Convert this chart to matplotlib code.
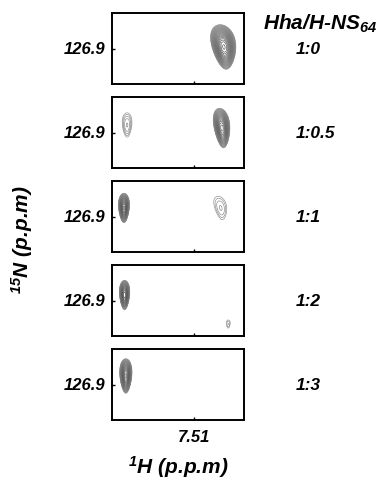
import numpy as np
import matplotlib
matplotlib.use("Agg")
import matplotlib.pyplot as plt

plt.rcParams["font.family"] = ["Liberation Sans", "DejaVu Sans"]
plt.rcParams["mathtext.default"] = "regular"

# titration ratios, one panel each
RATIOS = ["1:0", "1:0.5", "1:1", "1:2", "1:3"]

# peak table: panel index, 1H ppm, 15N ppm, outer half-width (ppm), outer half-height (ppm), amplitude
PEAK_PANEL = [0, 1, 1, 2, 2, 3, 3, 4]
PEAK_H = [7.462, 7.616, 7.465, 7.621, 7.467, 7.620, 7.455, 7.618]
PEAK_N = [126.885, 126.826, 126.856, 126.816, 126.816, 126.846, 127.132, 126.816]
PEAK_WH = [0.019, 0.0075, 0.0125, 0.0085, 0.0095, 0.008, 0.003, 0.0095]
PEAK_WN = [0.22, 0.12, 0.195, 0.145, 0.115, 0.145, 0.04, 0.17]
PEAK_AMP = [1.0, 0.085, 0.8, 0.9, 0.075, 0.95, 0.065, 0.9]
PEAK_TILT = [0.25, 0.0, 0.25, 0.0, 0.35, 0.0, 0.0, 0.0]

XLIM = (7.64, 7.43)
YLIM = (127.25, 126.55)
XTICK = 7.51
YTICK = 126.9
LEVELS = np.geomspace(0.05, 0.97, 24)

W, H = 380, 482
fig = plt.figure(figsize=(W / 100, H / 100), dpi=100)

FONT = dict(fontweight="bold", fontstyle="italic")

xg = np.linspace(XLIM[1], XLIM[0], 500)
yg = np.linspace(YLIM[1], YLIM[0], 500)
X, Y = np.meshgrid(xg, yg)
L0 = LEVELS[0]
# outer contours lighter, inner ones a bit darker
LEVEL_COLORS = [str(g) for g in np.linspace(0.55, 0.3, len(LEVELS))]

for i, ratio in enumerate(RATIOS):
    top = 13 + 84 * i
    ax = fig.add_axes([112 / W, 1 - (top + 71) / H, 132 / W, 71 / H])
    Z = np.zeros_like(X)
    for p, hx, ny, wh, wn, amp, tilt in zip(PEAK_PANEL, PEAK_H, PEAK_N, PEAK_WH,
                                            PEAK_WN, PEAK_AMP, PEAK_TILT):
        if p != i:
            continue
        k = np.sqrt(2 * np.log(amp / L0))
        sx, sy = wh / k, wn / k
        dx = (X - hx) / sx
        dy = (Y - ny) / sy
        # slight skew: a little wider toward the top of the peak
        dx = dx / (1 + 0.25 * np.clip(-dy / k, -1, 1)) + tilt * dy
        Z += amp * np.exp(-0.5 * (dx ** 2 + dy ** 2))
    ax.contour(X, Y, Z, levels=LEVELS, colors=LEVEL_COLORS, linewidths=0.45)
    ax.set_xlim(*XLIM)
    ax.set_ylim(*YLIM)
    ax.set_xticks([XTICK])
    ax.set_yticks([YTICK])
    ax.tick_params(direction="in", length=2, width=1)
    ax.tick_params(axis="y", pad=5)
    ax.tick_params(axis="x", pad=7)
    ax.set_yticklabels([f"{YTICK:.1f}"], fontsize=12, **FONT)
    if i == len(RATIOS) - 1:
        ax.set_xticklabels([f"{XTICK:.2f}"], fontsize=12, **FONT)
    else:
        ax.set_xticklabels([])
    for s in ax.spines.values():
        s.set_linewidth(1.4)
    fig.text(296 / W, 1 - (top + 36) / H, ratio, fontsize=12.5, ha="left",
             va="center", **FONT)

fig.text(263 / W, 1 - 24 / H, r"Hha/H-NS$_{64}$", fontsize=15, ha="left",
         va="center", **FONT)
fig.text(178 / W, 1 - 467 / H, r"$^{1}$H (p.p.m)", fontsize=15, ha="center",
         va="center", **FONT)
fig.text(22 / W, 1 - 240 / H, r"$^{15}$N (p.p.m)", fontsize=15, ha="center",
         va="center", rotation=90, **FONT)

fig.savefig("out.png", dpi=100)
